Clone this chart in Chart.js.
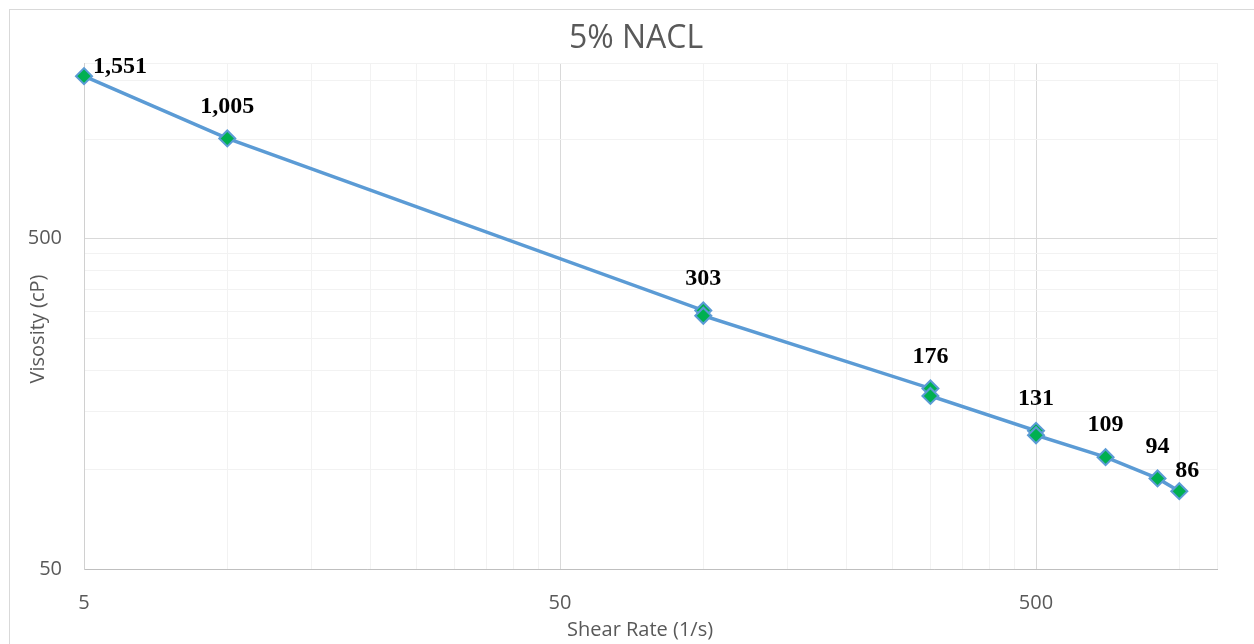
<!DOCTYPE html>
<html>
<head>
<meta charset="utf-8">
<title>5% NACL</title>
<script src="https://cdn.jsdelivr.net/npm/chart.js@4"></script>
<style>
  body { margin: 0; background: #fff; }
  #chart { display: block; }
</style>
</head>
<body>
<canvas id="chart" width="1254" height="644"></canvas>
<script>
// values (two readings at 100, 300 and 500 1/s)
const shearRate = [5, 10, 100, 100, 300, 300, 500, 500, 700, 900, 1000];
const viscosity = [1551, 1005, 303, 292, 176, 167, 131, 127, 109, 94, 86];
const labelled = [true, true, true, false, true, false, true, false, true, true, true];

const xTickLabels = [5, 50, 500];
const yTickLabels = [50, 500];

const xRange = [5, 1200];
const yRange = [50, 1700];

const chartTitle = "5% NACL";

// excel style log grid: min*k in every decade, plus the plot edge
const logGrid = (min, max) => {
  const out = [];
  for (let d = min; d <= max; d *= 10) {
    for (let k = 1; k < 10; k++) {
      if (d * k <= max) out.push(d * k);
    }
  }
  if (out[out.length - 1] !== max) out.push(max);
  return out;
};

const gridColor = (majors) => (c) =>
  c.tick && majors.includes(c.tick.value) ? "#d9d9d9" : "#f2f2f2";

const frame = {
  id: "frame",
  beforeDraw(chart) {
    const { ctx } = chart;
    ctx.save();
    ctx.strokeStyle = "#d9d9d9";
    ctx.lineWidth = 1;
    ctx.strokeRect(9.5, 9.5, chart.width + 20, chart.height + 20);
    ctx.font = '32px "Open Sans", sans-serif';
    ctx.fillStyle = "#595959";
    ctx.textAlign = "center";
    ctx.textBaseline = "middle";
    ctx.fillText(chartTitle, 636, 39);
    ctx.restore();
  },
};

const pointLabels = {
  id: "pointLabels",
  afterDatasetsDraw(chart) {
    const { ctx } = chart;
    const pts = chart.getDatasetMeta(0).data;
    ctx.save();
    ctx.font = 'bold 24px "Liberation Serif", "Times New Roman", serif';
    ctx.fillStyle = "#000";
    ctx.textBaseline = "middle";
    pts.forEach((pt, i) => {
      if (!labelled[i]) return;
      const text = viscosity[i].toLocaleString("en-US");
      let x = pt.x;
      let y = pt.y - 32;
      ctx.textAlign = "center";
      if (i === 0) {
        x = pt.x + 9;
        y = pt.y - 9;
        ctx.textAlign = "left";
      } else if (i === pts.length - 1) {
        x = pt.x + 8;
        y = pt.y - 20;
      }
      ctx.fillText(text, x, y);
    });
    ctx.restore();
  },
};

const ctx = document.getElementById("chart").getContext("2d");
const myChart = new Chart(ctx, {
  type: "scatter",
  data: {
    datasets: [
      {
        data: shearRate.map((x, i) => ({ x: x, y: viscosity[i] })),
        showLine: true,
        borderColor: "#5b9bd5",
        borderWidth: 3.5,
        tension: 0,
        pointStyle: "rectRot",
        pointRadius: 8,
        pointBackgroundColor: "#00b050",
        pointBorderColor: "#5b9bd5",
        pointBorderWidth: 2,
        clip: false,
      },
    ],
  },
  options: {
    responsive: false,
    animation: false,
    layout: {
      padding: { top: 63, right: 37, left: 0, bottom: 0 },
    },
    plugins: {
      legend: { display: false },
      tooltip: { enabled: false },
    },
    scales: {
      x: {
        type: "logarithmic",
        min: xRange[0],
        max: xRange[1],
        afterBuildTicks: (scale) => {
          scale.ticks = logGrid(xRange[0], xRange[1]).map((v) => ({ value: v }));
        },
        afterFit: (scale) => {
          scale.height = 75;
        },
        ticks: {
          autoSkip: false,
          maxRotation: 0,
          padding: 22,
          color: "#595959",
          font: { family: "Open Sans", size: 20 },
          callback: (v) => (xTickLabels.includes(v) ? String(v) : ""),
        },
        grid: {
          color: gridColor(xTickLabels),
          drawTicks: false,
        },
        border: { color: "#bfbfbf" },
        title: {
          display: true,
          // trailing spaces nudge the centred title left like the original
          text: "Shear Rate (1/s)    ",
          color: "#595959",
          font: { family: "Open Sans", size: 20 },
          padding: { top: 0, bottom: 2 },
        },
      },
      y: {
        type: "logarithmic",
        min: yRange[0],
        max: yRange[1],
        afterBuildTicks: (scale) => {
          scale.ticks = logGrid(yRange[0], yRange[1]).map((v) => ({ value: v }));
        },
        afterFit: (scale) => {
          scale.width = 84;
        },
        ticks: {
          autoSkip: false,
          padding: 22,
          color: "#595959",
          font: { family: "Open Sans", size: 20 },
          callback: (v) => (yTickLabels.includes(v) ? String(v) : ""),
        },
        grid: {
          color: gridColor(yTickLabels),
          drawTicks: false,
        },
        border: { color: "#d0d0d0" },
        title: {
          display: true,
          text: "Visosity (cP)     ",
          color: "#595959",
          font: { family: "Open Sans", size: 20 },
          padding: { top: 26, bottom: 0 },
        },
      },
    },
  },
  plugins: [frame, pointLabels],
});
</script>
</body>
</html>
